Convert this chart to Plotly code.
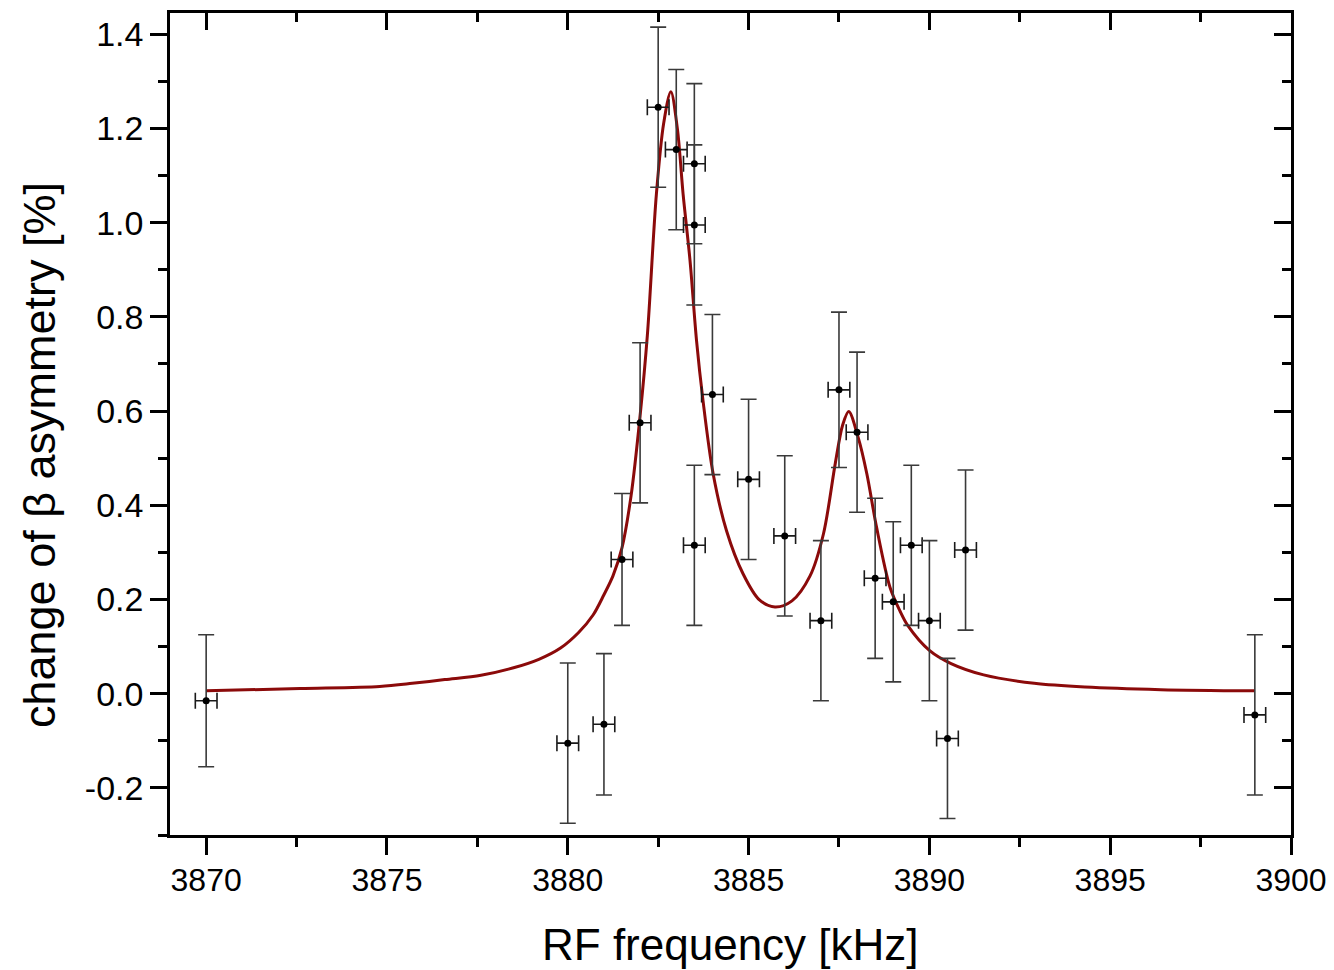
import plotly.graph_objects as go

# ---- measured data points ----
freq = [3870, 3880, 3881, 3881.5, 3882, 3882.5, 3883, 3883.5, 3883.5, 3883.5,
        3884, 3885, 3886, 3887, 3887.5, 3888, 3888.5, 3889, 3889.5, 3890,
        3890.5, 3891, 3899]
asym = [-0.015, -0.105, -0.065, 0.285, 0.575, 1.245, 1.155, 1.125, 0.995, 0.315,
        0.635, 0.455, 0.335, 0.155, 0.645, 0.555, 0.245, 0.195, 0.315, 0.155,
        -0.095, 0.305, -0.045]
asym_err = [0.14, 0.17, 0.15, 0.14, 0.17, 0.17, 0.17, 0.17, 0.17, 0.17,
            0.17, 0.17, 0.17, 0.17, 0.165, 0.17, 0.17, 0.17, 0.17, 0.17,
            0.17, 0.17, 0.17]
freq_err = [0.3] * len(freq)

# ---- fit curve ----
fit_f = [3870, 3872.6, 3874.8, 3875.7, 3876.6, 3877.6, 3878.5, 3879.2, 3879.8,
         3880.3, 3880.7, 3881.0, 3881.25, 3881.5, 3881.75, 3882.0, 3882.2,
         3882.45, 3882.65, 3882.85, 3883.03, 3883.19, 3883.38, 3883.56,
         3883.74, 3884.02, 3884.39, 3884.85, 3885.3, 3885.73, 3886.2, 3886.7,
         3887.07, 3887.4, 3887.6, 3887.77, 3888.03, 3888.27, 3888.54, 3888.91,
         3889.19, 3889.4, 3890.0, 3890.6, 3891.5, 3892.9, 3894.3, 3896.4, 3899]
fit_v = [0.006, 0.011, 0.0155, 0.022, 0.030, 0.039, 0.055, 0.073, 0.097,
         0.13, 0.167, 0.21, 0.25, 0.31, 0.42, 0.59, 0.76,
         1.06, 1.21, 1.278, 1.20, 1.06, 0.92, 0.75,
         0.622, 0.467, 0.346, 0.254, 0.199, 0.184, 0.197, 0.25,
         0.339, 0.49, 0.57, 0.599, 0.544, 0.467, 0.353, 0.226,
         0.175, 0.145, 0.092, 0.064, 0.040, 0.022, 0.014, 0.0085, 0.006]

# ---- tick labels ----
x_tick_vals = [3870, 3875, 3880, 3885, 3890, 3895, 3900]
x_tick_text = ["3870", "3875", "3880", "3885", "3890", "3895", "3900"]
y_tick_vals = [-0.2, 0.0, 0.2, 0.4, 0.6, 0.8, 1.0, 1.2, 1.4]
y_tick_text = ["-0.2", "0.0", "0.2", "0.4", "0.6", "0.8", "1.0", "1.2", "1.4"]

x_title = "RF frequency [kHz]"
y_title = "change of β asymmetry [%]"

FONT = "Liberation Sans, Arial, sans-serif"

fig = go.Figure()

fig.add_trace(go.Scatter(
    x=fit_f, y=fit_v, mode="lines",
    line=dict(color="#8b0a0a", width=3, shape="spline", smoothing=0.9),
    showlegend=False, hoverinfo="skip"))

fig.add_trace(go.Scatter(
    x=freq, y=asym, mode="markers",
    marker=dict(color="black", size=7),
    error_y=dict(type="data", array=asym_err, color="#3a3a3a", thickness=1.6, width=8),
    error_x=dict(type="data", array=freq_err, color="#1a1a1a", thickness=1.6, width=8),
    showlegend=False))

# invisible trace for the mirrored axes
fig.add_trace(go.Scatter(x=[3870], y=[0], xaxis="x2", yaxis="y2", mode="markers",
                         marker=dict(opacity=0), showlegend=False, hoverinfo="skip"))

axis_common = dict(showgrid=False, zeroline=False, showline=True, linecolor="black",
                   linewidth=2.5, tickcolor="black", tickwidth=2.5)

# the page body has an 8px default margin, compensated here
fig.update_layout(
    width=1326, height=962,
    margin=dict(l=162, r=43, t=5, b=135),
    paper_bgcolor="white", plot_bgcolor="white",
    font=dict(family=FONT, color="black"),
    xaxis=dict(range=[3869, 3900], tickvals=x_tick_vals, ticktext=x_tick_text,
               ticks="outside", ticklen=17, ticklabelstandoff=-2,
               tickfont=dict(size=32, family=FONT),
               minor=dict(ticks="outside", ticklen=9, dtick=2.5, tick0=3870,
                          tickwidth=2.5, tickcolor="black"),
               **axis_common),
    yaxis=dict(range=[-0.3, 1.445], tickvals=y_tick_vals, ticktext=y_tick_text,
               ticks="outside", ticklen=17, ticklabelstandoff=0,
               tickfont=dict(size=34, family=FONT),
               minor=dict(ticks="outside", ticklen=9, dtick=0.1, tick0=0,
                          tickwidth=2.5, tickcolor="black"),
               **axis_common),
    xaxis2=dict(range=[3869, 3900], overlaying="x", side="top", anchor="y",
                tickvals=x_tick_vals, ticks="inside", ticklen=17, showticklabels=False,
                minor=dict(ticks="inside", ticklen=9, dtick=2.5, tick0=3870,
                           tickwidth=2.5, tickcolor="black"),
                **axis_common),
    yaxis2=dict(range=[-0.3, 1.445], overlaying="y", side="right", anchor="x",
                tickvals=y_tick_vals, ticks="inside", ticklen=17, showticklabels=False,
                minor=dict(ticks="inside", ticklen=9, dtick=0.1, tick0=0,
                           tickwidth=2.5, tickcolor="black"),
                **axis_common),
    annotations=[
        dict(text=x_title, xref="paper", yref="paper", x=0.5, y=0,
             xanchor="center", yanchor="middle", yshift=-109, showarrow=False,
             font=dict(size=44, family=FONT, color="black")),
        dict(text=y_title, xref="paper", yref="paper", x=0, y=0.4623,
             xanchor="center", yanchor="middle", xshift=-130, textangle=-90,
             showarrow=False, font=dict(size=45, family=FONT, color="black")),
    ],
)

fig.write_html("out.html")
